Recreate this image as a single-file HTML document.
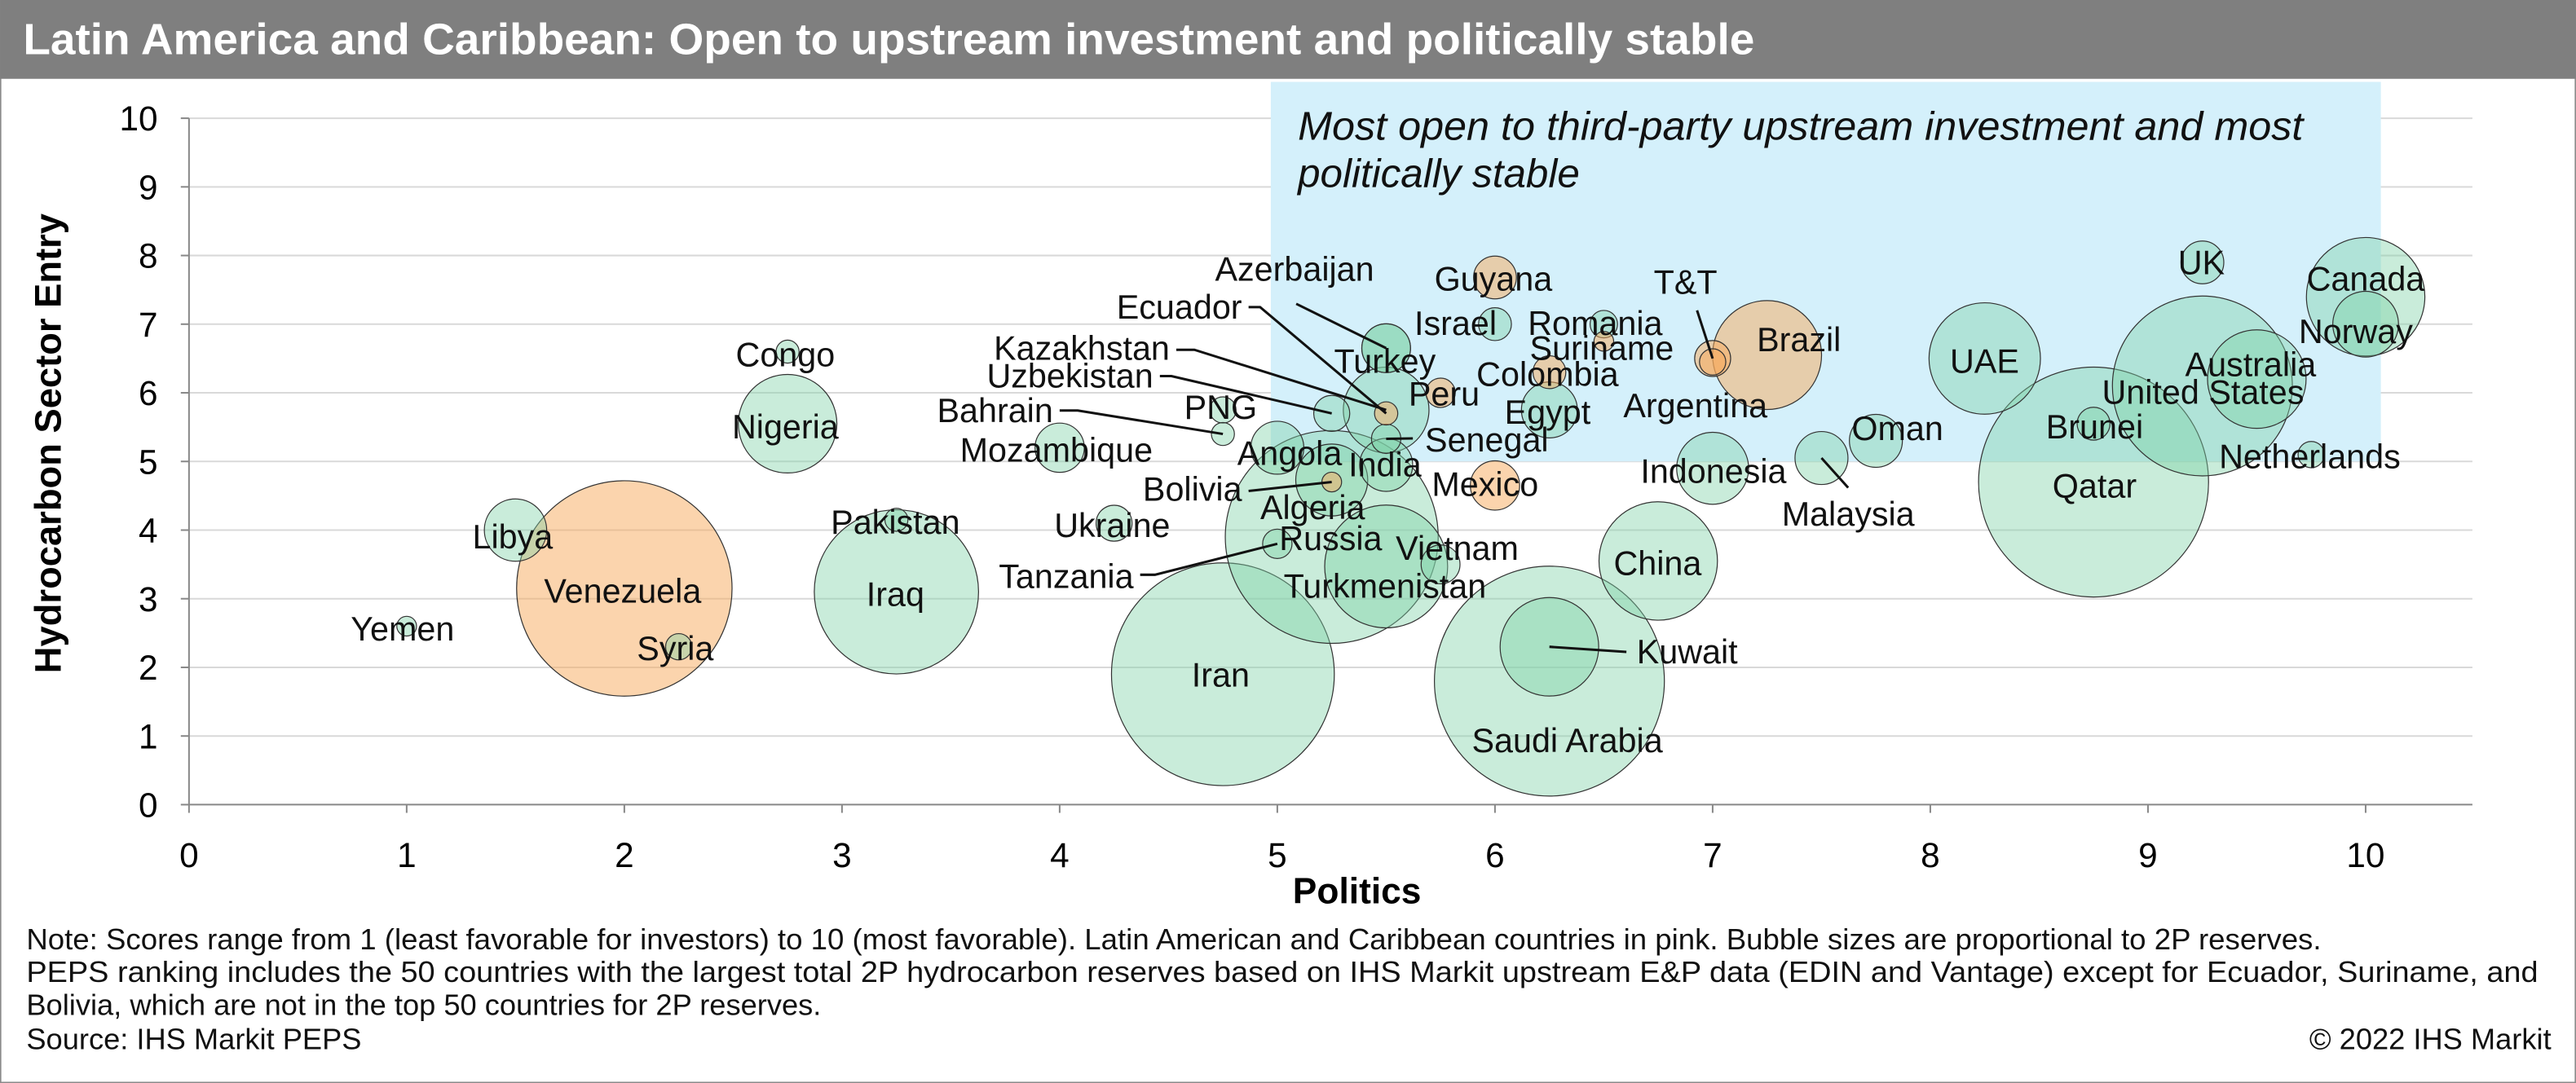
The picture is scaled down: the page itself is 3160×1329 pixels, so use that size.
<!DOCTYPE html>
<html><head><meta charset="utf-8"><style>
html,body{margin:0;padding:0;background:#fff}
svg{display:block}
text{font-family:"Liberation Sans",Arial,sans-serif}
</style></head><body>
<svg id="chart" width="3160" height="1329" viewBox="0 0 1568 659.5" xmlns="http://www.w3.org/2000/svg">
<rect x="0" y="0" width="1568" height="659.5" fill="#fff" stroke="#8a8a8a" stroke-width="1.5"/>
<rect x="0" y="0" width="1568" height="48" fill="#7f7f7f"/>
<text x="14" y="33" fill="#fff" font-size="26.5" font-weight="bold" textLength="1054" lengthAdjust="spacingAndGlyphs">Latin America and Caribbean: Open to upstream investment and politically stable</text>
<g id="grid"></g>
<rect id="hl" fill="#d4f0fb"/>
<text x="790" y="85" font-size="24.5" font-style="italic" fill="#111" textLength="612" lengthAdjust="spacingAndGlyphs">Most open to third-party upstream investment and most</text>
<text x="790" y="114" font-size="24.5" font-style="italic" fill="#111">politically stable</text>
<g id="bubbles"></g>
<g id="leaders"></g>
<g id="labels"></g>
<g id="axes"></g>
<text x="826" y="550" font-size="22" font-weight="bold" text-anchor="middle">Politics</text>
<text transform="translate(37,270) rotate(-90)" font-size="22.5" font-weight="bold" text-anchor="middle">Hydrocarbon Sector Entry</text>
<g font-size="18" fill="#111">
<text x="16" y="578" textLength="1397" lengthAdjust="spacingAndGlyphs">Note: Scores range from 1 (least favorable for investors) to 10 (most favorable). Latin American and Caribbean countries in pink. Bubble sizes are proportional to 2P reserves.</text>
<text x="16" y="598" textLength="1529" lengthAdjust="spacingAndGlyphs">PEPS ranking includes the 50 countries with the largest total 2P hydrocarbon reserves based on IHS Markit upstream E&amp;P data (EDIN and Vantage) except for Ecuador, Suriname, and</text>
<text x="16" y="618">Bolivia, which are not in the top 50 countries for 2P reserves.</text>
<text x="16" y="639">Source: IHS Markit PEPS</text>
<text x="1553" y="639" text-anchor="end">© 2022 IHS Markit</text>
</g>
</svg>
<script>
const countries=["Yemen","Libya","Venezuela","Syria","Congo","Nigeria","Iraq","Pakistan","Mozambique","Ukraine","Tanzania","Iran","Bahrain","PNG","Angola","Bolivia","Algeria","Russia","Turkmenistan","Vietnam","India","Senegal","Turkey","Peru","Kazakhstan","Uzbekistan","Ecuador","Azerbaijan","Guyana","Israel","Romania","Suriname","Colombia","Egypt","T&T","Brazil","Argentina","Mexico","Indonesia","China","Kuwait","Saudi Arabia","Malaysia","Oman","UAE","Brunei","Qatar","UK","Canada","Norway","Australia","United States","Netherlands"];
const politics=[1,1.5,2,2.25,2.75,2.75,3.25,3.25,4,4.25,5,4.75,4.75,4.75,5,5.25,5.25,5.25,5.5,5.75,5.5,5.5,5.5,5.75,5.5,5.25,5.5,5.5,6,6,6.5,6.5,6.25,6.25,7,7.25,7,6,7,6.75,6.25,6.25,7.5,7.75,8.25,8.75,8.75,9.25,10,10,9.5,9.25,9.75];
const entry=[2.6,4,3.15,2.3,6.6,5.55,3.1,4.15,5.2,4.1,3.8,1.9,5.4,5.75,5.2,4.7,4.73,3.9,3.47,3.5,4.95,5.33,6.65,6.0,5.75,5.7,5.7,6.65,7.68,7.0,7.0,6.75,6.3,5.75,6.5,6.55,6.45,4.65,4.9,3.55,2.3,1.8,5.05,5.3,6.5,5.55,4.7,7.9,7.4,7.0,6.2,6.1,5.1];
const reserves=[0.36,3.6,43,0.64,0.49,9,25,0.49,2.25,1.2,0.8,46,0.49,0.64,2.6,0.36,4.8,42,14,1.4,2.6,0.8,2.2,0.8,6.8,1.2,0.5,2.2,1.7,1,0.7,0.36,1,2.9,1.2,11,0.64,2.25,4.8,13,9,49,2.6,2.6,11.5,1,49,1.7,13,4,9,30,0.64];
const latam=[0,0,1,0,0,0,0,0,0,0,0,0,0,0,0,1,0,0,0,0,0,0,0,1,0,0,1,0,1,0,0,1,1,0,1,1,1,1,0,0,0,0,0,0,0,0,0,0,0,0,0,0,0];
const yTicks=[0,1,2,3,4,5,6,7,8,9,10];
const xTicks=[0,1,2,3,4,5,6,7,8,9,10];
// label layout (px)
const labelPos={"Yemen":[245,390],"Libya":[312,334],"Venezuela":[379,367],"Syria":[411,402],"Congo":[478,223],"Nigeria":[478,267],"Pakistan":[545,325],"Iraq":[545,369],"Mozambique":[643,281],"Ukraine":[677,327],"Tanzania":[648,358],"Iran":[743,418],"Bahrain":[600,257],"PNG":[743,255],"Angola":[785,283],"Bolivia":[723,305],"Algeria":[799,316],"Russia":[810,335],"Turkmenistan":[843,364],"Vietnam":[887,341],"India":[843,290],"Senegal":[905,275],"Turkey":[843,227],"Peru":[879,247],"Kazakhstan":[657,219],"Uzbekistan":[639,236],"Ecuador":[719,194],"Azerbaijan":[788,171],"Guyana":[909,177],"Israel":[886,204],"Romania":[971,204],"Suriname":[975,219],"Colombia":[942,235],"Egypt":[942,258],"T&T":[1026,179],"Brazil":[1095,214],"Argentina":[1032,254],"Mexico":[904,302],"Indonesia":[1043,294],"China":[1009,350],"Kuwait":[1027,404],"Saudi Arabia":[954,458],"Malaysia":[1125,320],"Oman":[1155,268],"UAE":[1208,227],"Brunei":[1275,267],"Qatar":[1275,303],"UK":[1340,167],"Canada":[1440,177],"Norway":[1434,209],"Australia":[1370,229],"United States":[1341,246],"Netherlands":[1406,285]};
const leaderStart={"Azerbaijan":[[789,185]],"Ecuador":[[760,187],[767,187]],"Kazakhstan":[[716,213],[727,213]],"Uzbekistan":[[706,229],[713,229]],"Bahrain":[[645,250],[656,250]],"Bolivia":[[760,299]],"Tanzania":[[694,350],[703,350]],"Senegal":[[860,267]],"T&T":[[1033,189]],"Kuwait":[[990,397]],"Malaysia":[[1125,297]]};

const xs=v=>115+v*132.5, ys=v=>490-v*41.8, rs=v=>Math.sqrt(v)*10;
const NS="http://www.w3.org/2000/svg";
function mk(tag,attrs,parent){const e=document.createElementNS(NS,tag);for(const k in attrs)e.setAttribute(k,attrs[k]);parent.appendChild(e);return e;}
const grid=document.getElementById('grid'),axes=document.getElementById('axes');
yTicks.forEach(t=>{
 if(t>0){const g=mk('line',{x1:115,x2:1505,y1:ys(t),y2:ys(t),stroke:'#d9d9d9','stroke-width':1},grid);
 
 }
 const tk=mk('line',{x1:110,x2:115,y1:ys(t),y2:ys(t),stroke:'#888'},axes);
 
 
 const l=mk('text',{x:96,y:ys(t)+7.5,'font-size':21,'text-anchor':'end'},axes);l.textContent=t;
 
 
});
xTicks.forEach(t=>{
 const tk=mk('line',{x1:xs(t),x2:xs(t),y1:490,y2:495,stroke:'#888'},axes);
 
 
 const l=mk('text',{x:xs(t),y:528,'font-size':21,'text-anchor':'middle'},axes);l.textContent=t;
 
 
});
const ya=mk('line',{x1:115,x2:115,y1:ys(10),y2:490,stroke:'#888'},axes);


const xa=mk('line',{x1:115,x2:1505,y1:490,y2:490,stroke:'#888'},axes);


const hl=document.getElementById('hl');
hl.setAttribute('x',xs(4.97));hl.setAttribute('width',xs(10.07)-xs(4.97));hl.setAttribute('y',ys(10.53));hl.setAttribute('height',ys(5)-ys(10.53));
const order=countries.map((c,i)=>i).sort((a,b)=>reserves[b]-reserves[a]);
const bg=document.getElementById('bubbles');
order.forEach(i=>{
 const c=mk('circle',{cx:xs(politics[i]),cy:ys(entry[i]),r:rs(reserves[i]),fill:latam[i]?'#f8a95c':'#7fd1a7','fill-opacity':latam[i]?0.5:0.42,stroke:'#333','stroke-width':0.6},bg);
 
 
});
const lg=document.getElementById('labels'),ld=document.getElementById('leaders');
countries.forEach((n,i)=>{
 const p=labelPos[n];let anchor='middle';
 if(leaderStart[n]&&["Ecuador","Kazakhstan","Uzbekistan","Bahrain","Bolivia","Tanzania"].includes(n)){anchor='end';}
 let x=p[0],y=p[1];
 if(anchor==='end'){x=leaderStart[n][0][0]-4;}
 const t=mk('text',{x:x,y:y,'font-size':20.5,'text-anchor':anchor,fill:'#111'},lg);t.textContent=n;
 
 
 if(leaderStart[n]){
  const pts=leaderStart[n].concat([[xs(politics[i]),ys(entry[i])]]);
  const pl=mk('polyline',{points:pts.map(q=>q.join(',')).join(' '),fill:'none',stroke:'#111','stroke-width':1.5},ld);
  
  
 }
});
</script>
</body></html>
